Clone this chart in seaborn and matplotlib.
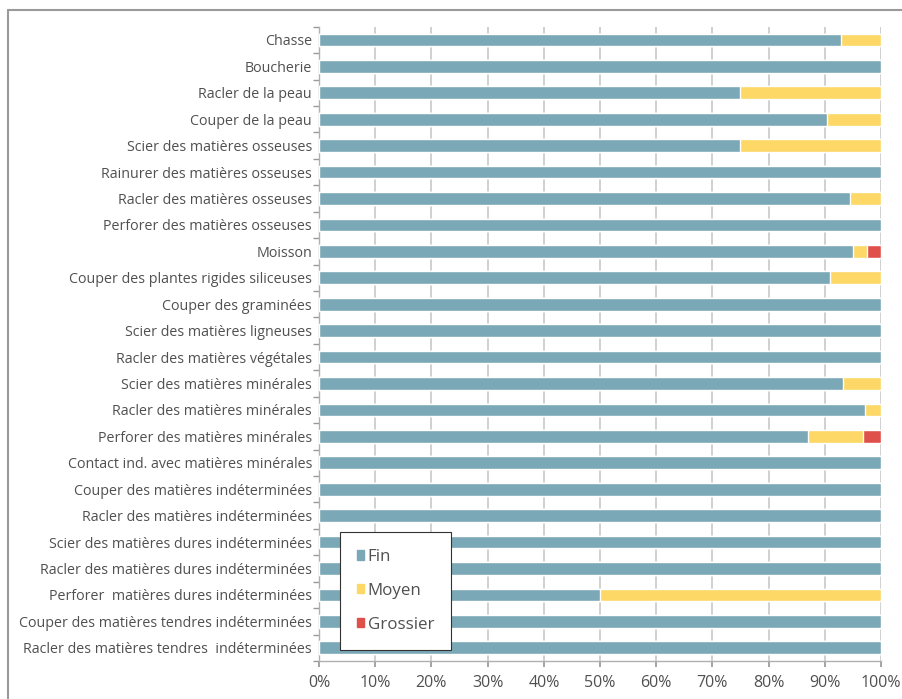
import numpy as np
import pandas as pd
import matplotlib
matplotlib.use("Agg")
import matplotlib.pyplot as plt
import seaborn as sns
from matplotlib.patches import Patch
from matplotlib.lines import Line2D

# Activities (top to bottom)
activites = [
    "Chasse", "Boucherie", "Racler de la peau", "Couper de la peau",
    "Scier des matières osseuses", "Rainurer des matières osseuses",
    "Racler des matières osseuses", "Perforer des matières osseuses",
    "Moisson", "Couper des plantes rigides siliceuses", "Couper des graminées",
    "Scier des matières ligneuses", "Racler des matières végétales",
    "Scier des matières minérales", "Racler des matières minérales",
    "Perforer des matières minérales", "Contact ind. avec matières minérales",
    "Couper des matières indéterminées", "Racler des matières indéterminées",
    "Scier des matières dures indéterminées",
    "Racler des matières dures indéterminées",
    "Perforer  matières dures indéterminées",
    "Couper des matières tendres indéterminées",
    "Racler des matières tendres  indéterminées",
]

# Percentages per polish category
fin = [92.9, 100, 75, 90.4, 75, 100, 94.4, 100, 95.1, 90.9, 100, 100, 100,
       93.3, 97.2, 87.0, 100, 100, 100, 100, 100, 50, 100, 100]
moyen = [7.1, 0, 25, 9.6, 25, 0, 5.6, 0, 2.5, 9.1, 0, 0, 0,
         6.7, 2.8, 9.8, 0, 0, 0, 0, 0, 50, 0, 0]
grossier = [0, 0, 0, 0, 0, 0, 0, 0, 2.4, 0, 0, 0, 0,
            0, 0, 3.2, 0, 0, 0, 0, 0, 0, 0, 0]

c_fin = "#7aa8b6"
c_moyen = "#fdd866"
c_gros = "#e0504b"
txt = "#505050"

df = pd.DataFrame({"activite": activites, "fin": fin, "moyen": moyen, "grossier": grossier})
df["fin_moyen"] = df["fin"] + df["moyen"]
df["total"] = df["fin_moyen"] + df["grossier"]

sns.set_theme(style="white")
plt.rcParams["font.family"] = ["Open Sans", "DejaVu Sans"]

fig = plt.figure(figsize=(9.02, 6.99), dpi=100)
ax = fig.add_axes([0.3537, 0.0544, 0.623, 0.9073])

# Stacked bars via overlaid cumulative totals
sns.barplot(data=df, y="activite", x="total", color=c_gros, width=0.48,
            orient="h", ax=ax, saturation=1, zorder=3)
sns.barplot(data=df, y="activite", x="fin_moyen", color=c_moyen, width=0.48,
            orient="h", ax=ax, saturation=1, zorder=3)
sns.barplot(data=df, y="activite", x="fin", color=c_fin, width=0.48,
            orient="h", ax=ax, saturation=1, zorder=3)

ax.set_xlim(0, 100)
ax.set_ylim(len(activites) - 0.5, -0.5)
ax.set_xticks(np.arange(0, 101, 10))
ax.set_xticklabels([f"{v}%" for v in range(0, 101, 10)], fontsize=11.5, color=txt)
ax.tick_params(axis="y", labelsize=10.3, labelcolor=txt, length=0, pad=5)
ax.tick_params(axis="x", length=4, color="#999999", direction="out", pad=6,
               bottom=True)
ax.set_yticks(np.arange(-0.5, len(activites), 1), minor=True)
ax.tick_params(axis="y", which="minor", length=4, color="#999999", left=True)
ax.set_xlabel("")
ax.set_ylabel("")

ax.grid(axis="x", color="#c4c4c4", linewidth=1.1, zorder=0)
ax.set_axisbelow(True)
for s in ["top", "right"]:
    ax.spines[s].set_visible(False)
for s in ["left", "bottom"]:
    ax.spines[s].set_color("#b0b0b0")
    ax.spines[s].set_linewidth(1)

handles = [Patch(color=c_fin, label="Fin"),
           Patch(color=c_moyen, label="Moyen"),
           Patch(color=c_gros, label="Grossier")]
leg = ax.legend(handles=handles, loc="lower left", bbox_to_anchor=(0.037, 0.018),
                frameon=True, fancybox=False, framealpha=1, fontsize=12.2,
                handlelength=0.45, handleheight=0.45, handletextpad=0.2,
                labelspacing=1.05, borderpad=1.0, borderaxespad=0.0)
leg.get_frame().set_edgecolor("#333333")
leg.get_frame().set_linewidth(0.8)
leg.set_zorder(5)
for t in leg.get_texts():
    t.set_color(txt)

# Page frame lines (top and left)
fig.add_artist(Line2D([0.009, 1.0], [0.986, 0.986], transform=fig.transFigure,
                      color="#9a9a9a", linewidth=1.5))
fig.add_artist(Line2D([0.009, 0.009], [0.0, 0.986], transform=fig.transFigure,
                      color="#9a9a9a", linewidth=1.5))

fig.savefig("out.png", dpi=100)
